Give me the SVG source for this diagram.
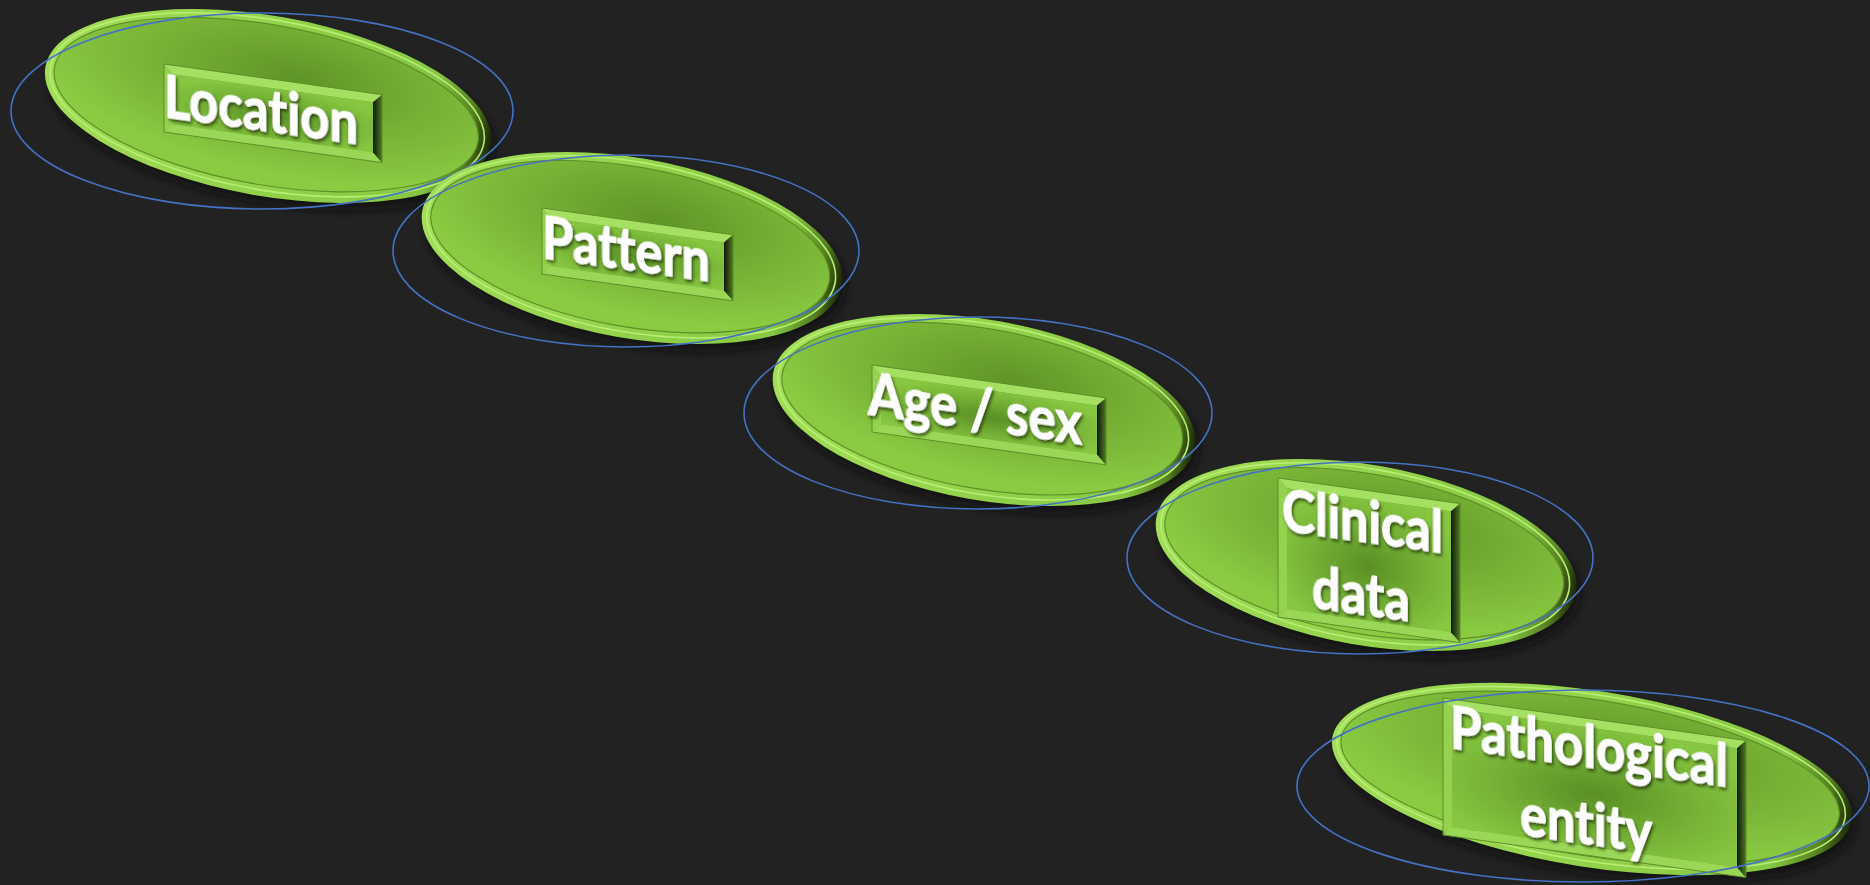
<svg xmlns="http://www.w3.org/2000/svg" width="1870" height="885" viewBox="0 0 1870 885">
<defs>
<linearGradient id="rim" x1="0" y1="0" x2="1" y2="0">
<stop offset="0" stop-color="#a2de58"/>
<stop offset="0.5" stop-color="#93d34b"/>
<stop offset="0.86" stop-color="#86c843"/>
<stop offset="0.95" stop-color="#557f1f"/>
<stop offset="1" stop-color="#1c2806"/>
</linearGradient>
<radialGradient id="face" cx="0.56" cy="0.3" r="0.62">
<stop offset="0" stop-color="#5f9528"/>
<stop offset="0.45" stop-color="#74ad33"/>
<stop offset="1" stop-color="#8acb42"/>
</radialGradient>
<radialGradient id="boxFace" cx="0.5" cy="0.55" r="0.6">
<stop offset="0" stop-color="#5a8f26"/>
<stop offset="0.6" stop-color="#76b236"/>
<stop offset="1" stop-color="#86c640"/>
</radialGradient>
<linearGradient id="boxRight" x1="0" y1="0" x2="1" y2="0">
<stop offset="0" stop-color="#0f1805"/>
<stop offset="0.6" stop-color="#36531a"/>
<stop offset="1" stop-color="#4f7a22"/>
</linearGradient>
<filter id="txtShadow" x="-10%" y="-30%" width="120%" height="160%">
<feDropShadow dx="1.5" dy="2.5" stdDeviation="1.6" flood-color="#1a2c06" flood-opacity="0.75"/>
</filter>
<filter id="discShadow" x="-10%" y="-20%" width="125%" height="150%">
<feGaussianBlur stdDeviation="4"/>
</filter>
</defs>
<style>
.bg{fill:#222222}
.shadow{fill:#0d0d0d;opacity:0.7}
.rim{fill:url(#rim)}
.hl{fill:none;stroke:#b8ee74;stroke-width:1.6}
.face{fill:url(#face);stroke:#5f8f28;stroke-width:1.2}
.blue{fill:none;stroke:#4472c4;stroke-width:1.6}
.bt{fill:#a6e062}
.bl{fill:#94d250}
.bb{fill:#9bd756}
.br{fill:url(#boxRight)}
.bf{fill:url(#boxFace)}
.bo{fill:none;stroke:#5b8a27;stroke-width:0.9}
.lbl{font-family:Lato,"Open Sans","Liberation Sans",sans-serif;font-weight:700;font-size:60px;fill:#ffffff;stroke:#ffffff;stroke-width:1.2;font-variant-ligatures:none;filter:url(#txtShadow)}
</style>
<rect class="bg" x="0" y="0" width="1870" height="885"/>

<g id="connectors"></g>

<g id="node-location">
<g transform="translate(268,106) rotate(10)">
<ellipse class="shadow" cx="5" cy="7" rx="226" ry="90" filter="url(#discShadow)"/>
<ellipse class="rim" cx="0" cy="0" rx="226" ry="90"/>
<ellipse class="hl" cx="-1" cy="-1" rx="220" ry="85"/>
<ellipse class="face" cx="-2" cy="-1" rx="215" ry="80"/>
</g>
<g transform="translate(164,64) skewY(8)">
<polygon class="bt" points="0,0 218,0 209,9 9,9"/>
<polygon class="bl" points="0,0 9,9 9,59 0,68"/>
<polygon class="bb" points="0,68 9,59 209,59 218,68"/>
<polygon class="br" points="218,0 218,68 209,59 209,9"/>
<rect class="bf" x="9" y="9" width="200" height="50"/>
<rect class="bo" x="0" y="0" width="218" height="68"/>
<text class="lbl" x="0" y="53" textLength="194" lengthAdjust="spacingAndGlyphs">Location</text>
</g>
<ellipse class="blue" cx="262" cy="111" rx="251" ry="98"/>
</g>

<g id="node-pattern">
<g transform="translate(632,248) rotate(10)">
<ellipse class="shadow" cx="5" cy="7" rx="213" ry="90" filter="url(#discShadow)"/>
<ellipse class="rim" cx="0" cy="0" rx="213" ry="90"/>
<ellipse class="hl" cx="-1" cy="-1" rx="207" ry="85"/>
<ellipse class="face" cx="-2" cy="-1" rx="202" ry="80"/>
</g>
<g transform="translate(542,208) skewY(8)">
<polygon class="bt" points="0,0 191,0 182,9 9,9"/>
<polygon class="bl" points="0,0 9,9 9,57 0,66"/>
<polygon class="bb" points="0,66 9,57 182,57 191,66"/>
<polygon class="br" points="191,0 191,66 182,57 182,9"/>
<rect class="bf" x="9" y="9" width="173" height="48"/>
<rect class="bo" x="0" y="0" width="191" height="66"/>
<text class="lbl" x="0" y="50" textLength="168" lengthAdjust="spacingAndGlyphs">Pattern</text>
</g>
<ellipse class="blue" cx="626" cy="251" rx="233" ry="96"/>
</g>

<g id="node-agesex">
<g transform="translate(984,410) rotate(10)">
<ellipse class="shadow" cx="5" cy="7" rx="214" ry="90" filter="url(#discShadow)"/>
<ellipse class="rim" cx="0" cy="0" rx="214" ry="90"/>
<ellipse class="hl" cx="-1" cy="-1" rx="208" ry="85"/>
<ellipse class="face" cx="-2" cy="-1" rx="203" ry="80"/>
</g>
<g transform="translate(872,365) skewY(8)">
<polygon class="bt" points="0,0 234,0 225,9 9,9"/>
<polygon class="bl" points="0,0 9,9 9,58 0,67"/>
<polygon class="bb" points="0,67 9,58 225,58 234,67"/>
<polygon class="br" points="234,0 234,67 225,58 225,9"/>
<rect class="bf" x="9" y="9" width="216" height="49"/>
<rect class="bo" x="0" y="0" width="234" height="67"/>
<text class="lbl" x="-4" y="50" textLength="214" lengthAdjust="spacingAndGlyphs">Age / sex</text>
</g>
<ellipse class="blue" cx="978" cy="413" rx="234" ry="96"/>
</g>

<g id="node-clinical">
<g transform="translate(1366,555) rotate(10)">
<ellipse class="shadow" cx="5" cy="7" rx="213" ry="90" filter="url(#discShadow)"/>
<ellipse class="rim" cx="0" cy="0" rx="213" ry="90"/>
<ellipse class="hl" cx="-1" cy="-1" rx="207" ry="85"/>
<ellipse class="face" cx="-2" cy="-1" rx="202" ry="80"/>
</g>
<g transform="translate(1278,478) skewY(8)">
<polygon class="bt" points="0,0 182,0 173,9 9,9"/>
<polygon class="bl" points="0,0 9,9 9,130 0,139"/>
<polygon class="bb" points="0,139 9,130 173,130 182,139"/>
<polygon class="br" points="182,0 182,139 173,130 173,9"/>
<rect class="bf" x="9" y="9" width="164" height="121"/>
<rect class="bo" x="0" y="0" width="182" height="139"/>
<text class="lbl" x="4" y="52" textLength="161" lengthAdjust="spacingAndGlyphs">Clinical</text>
<text class="lbl" x="34" y="125" textLength="98" lengthAdjust="spacingAndGlyphs">data</text>
</g>
<ellipse class="blue" cx="1360" cy="558" rx="233" ry="96"/>
</g>

<g id="node-pathological">
<g transform="translate(1592,779) rotate(9)">
<ellipse class="shadow" cx="5" cy="7" rx="263" ry="88" filter="url(#discShadow)"/>
<ellipse class="rim" cx="0" cy="0" rx="263" ry="88"/>
<ellipse class="hl" cx="-1" cy="-1" rx="257" ry="83"/>
<ellipse class="face" cx="-2" cy="-1" rx="252" ry="78"/>
</g>
<g transform="translate(1443,698) skewY(8)">
<polygon class="bt" points="0,0 303,0 294,9 9,9"/>
<polygon class="bl" points="0,0 9,9 9,128 0,137"/>
<polygon class="bb" points="0,137 9,128 294,128 303,137"/>
<polygon class="br" points="303,0 303,137 294,128 294,9"/>
<rect class="bf" x="9" y="9" width="285" height="119"/>
<rect class="bo" x="0" y="0" width="303" height="137"/>
<text class="lbl" x="7" y="49" textLength="278" lengthAdjust="spacingAndGlyphs">Pathological</text>
<text class="lbl" x="77" y="126" textLength="132" lengthAdjust="spacingAndGlyphs">entity</text>
</g>
<ellipse class="blue" cx="1583" cy="786" rx="286" ry="96"/>
</g>
</svg>
